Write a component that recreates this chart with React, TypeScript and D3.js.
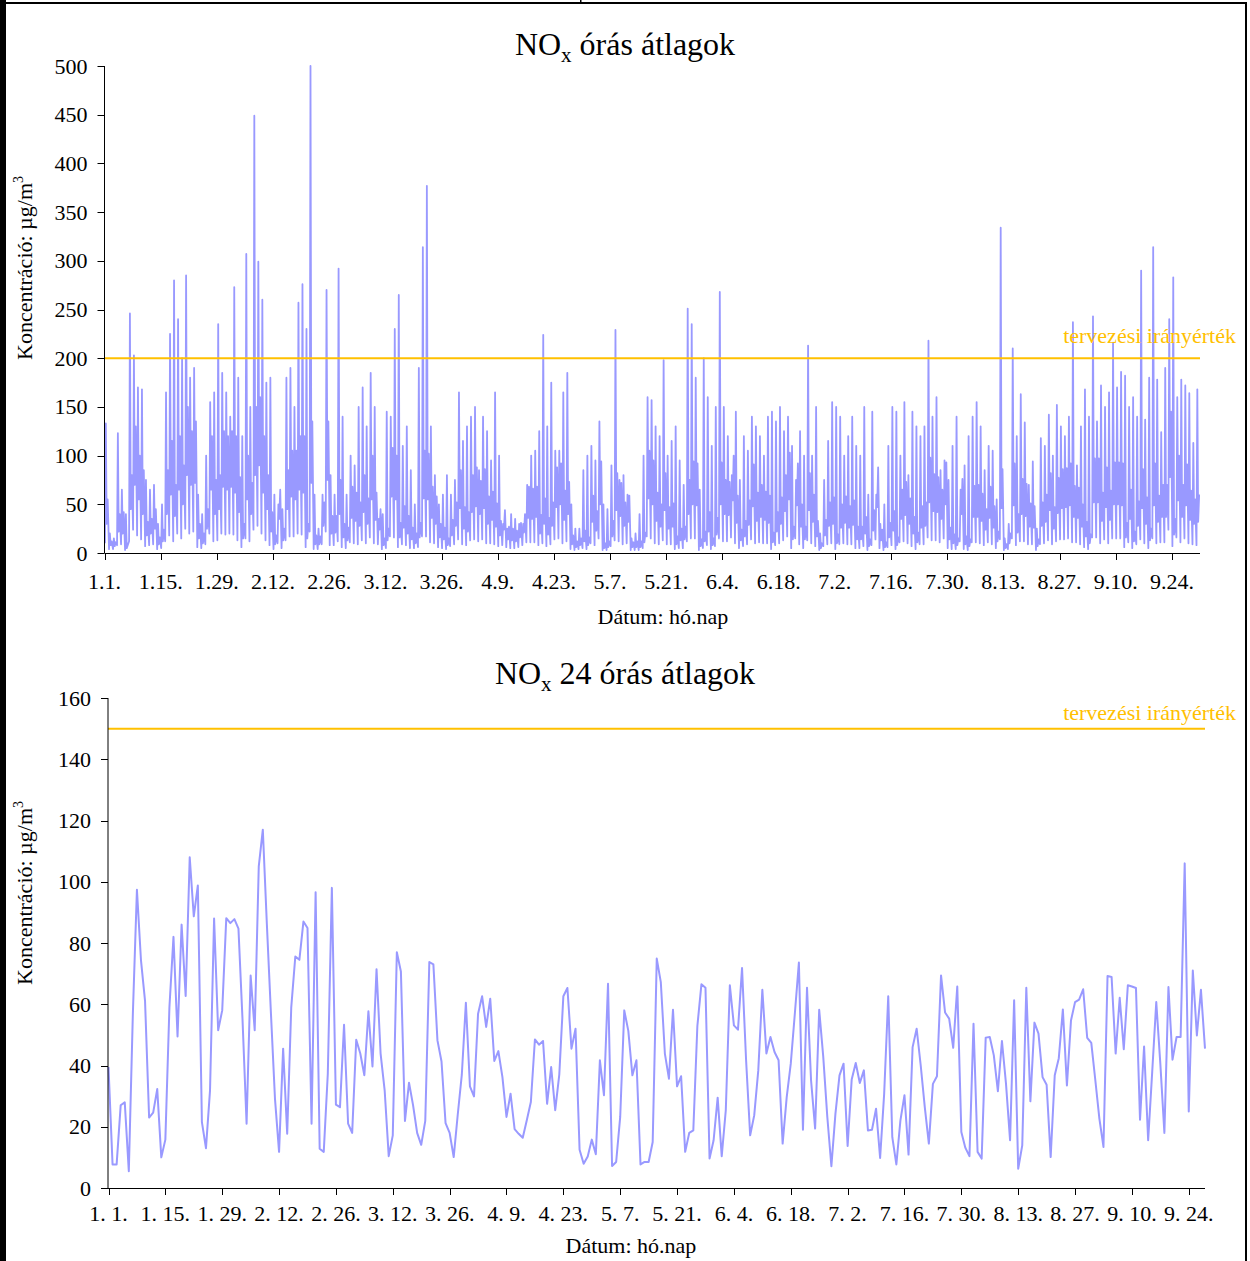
import React from "react";
import * as d3 from "d3";

// ---- tick labels (every 14 days from 1 January) ----
const tickDays = [0, 14, 28, 42, 56, 70, 84, 98, 112, 126, 140, 154, 168, 182, 196, 210, 224, 238, 252, 266];
const hourlyTickLabels = ["1.1.", "1.15.", "1.29.", "2.12.", "2.26.", "3.12.", "3.26.", "4.9.", "4.23.", "5.7.", "5.21.", "6.4.", "6.18.", "7.2.", "7.16.", "7.30.", "8.13.", "8.27.", "9.10.", "9.24."];
const dailyTickLabels = ["1. 1.", "1. 15.", "1. 29.", "2. 12.", "2. 26.", "3. 12.", "3. 26.", "4. 9.", "4. 23.", "5. 7.", "5. 21.", "6. 4.", "6. 18.", "7. 2.", "7. 16.", "7. 30.", "8. 13.", "8. 27.", "9. 10.", "9. 24."];

const hourlyYTicks = [0, 50, 100, 150, 200, 250, 300, 350, 400, 450, 500];
const dailyYTicks = [0, 20, 40, 60, 80, 100, 120, 140, 160];

// planning guide values (µg/m3)
const hourlyLimit = 200;
const dailyLimit = 150;

// ---- hourly NOx: night minimum, morning maximum, midday dip and evening level of each day ----
const hourlyLow = [
  10, 4, 4, 8, 9, 3, 12, 24, 18, 14,
  7, 8, 9, 4, 5, 12, 18, 12, 20, 15,
  25, 20, 22, 6, 5, 9, 20, 12, 13, 20,
  19, 20, 19, 13, 6, 15, 12, 24, 28, 20,
  13, 8, 4, 10, 5, 13, 17, 17, 20, 19,
  6, 22, 4, 4, 9, 22, 8, 8, 12, 6,
  5, 11, 10, 9, 13, 10, 16, 10, 9, 4,
  5, 17, 16, 6, 9, 8, 5, 5, 6, 17,
  17, 11, 10, 6, 5, 4, 7, 9, 14, 9,
  8, 13, 14, 12, 14, 10, 10, 9, 7, 8,
  6, 5, 5, 6, 8, 11, 11, 11, 8, 10,
  7, 9, 14, 15, 10, 12, 4, 3, 4, 5,
  4, 10, 8, 15, 3, 3, 7, 13, 12, 9,
  10, 3, 3, 3, 5, 17, 15, 10, 9, 13,
  9, 9, 4, 5, 5, 12, 15, 15, 3, 5,
  8, 4, 7, 15, 12, 12, 16, 10, 5, 7,
  9, 14, 10, 11, 10, 10, 4, 8, 10, 13,
  17, 5, 15, 9, 5, 13, 10, 7, 3, 7,
  9, 10, 4, 9, 10, 9, 9, 5, 5, 7,
  3, 8, 14, 5, 3, 6, 8, 4, 11, 12,
  10, 7, 4, 9, 9, 16, 13, 13, 11, 15,
  5, 4, 4, 12, 4, 3, 11, 11, 10, 8,
  11, 9, 5, 14, 3, 4, 15, 8, 12, 12,
  9, 9, 3, 9, 10, 13, 9, 12, 14, 14,
  15, 11, 11, 9, 6, 4, 16, 16, 10, 14,
  10, 15, 15, 15, 6, 11, 5, 9, 14, 10,
  5, 15, 10, 11, 11, 24, 7, 16, 11, 15,
  10, 9, 8,
];

const hourlyPeak = [
  133, 20, 15, 123, 65, 40, 246, 203, 170, 168,
  75, 65, 70, 30, 50, 165, 225, 280, 240, 200,
  285, 180, 190, 60, 40, 100, 155, 165, 235, 185,
  165, 140, 273, 180, 120, 307, 150, 449, 299, 260,
  175, 180, 60, 50, 45, 180, 190, 150, 257, 276,
  230, 500, 60, 25, 60, 270, 80, 60, 292, 140,
  60, 100, 90, 150, 170, 130, 185, 150, 35, 40,
  145, 140, 230, 265, 110, 130, 85, 50, 190, 314,
  377, 130, 80, 50, 60, 80, 60, 75, 165, 115,
  130, 140, 150, 85, 140, 125, 95, 165, 100, 30,
  25, 40, 35, 30, 30, 70, 100, 105, 125, 224,
  130, 175, 105, 105, 165, 185, 50, 25, 25, 85,
  100, 110, 95, 135, 50, 45, 90, 229, 75, 80,
  60, 15, 20, 40, 100, 160, 157, 130, 120, 198,
  100, 115, 130, 95, 70, 251, 235, 180, 65, 200,
  160, 110, 150, 268, 150, 120, 80, 145, 75, 120,
  105, 140, 130, 120, 100, 140, 145, 135, 150, 125,
  140, 110, 75, 125, 100, 213, 100, 150, 20, 75,
  115, 155, 150, 140, 100, 120, 140, 110, 100, 150,
  60, 145, 60, 30, 50, 110, 150, 145, 100, 155,
  80, 145, 130, 120, 130, 218, 140, 160, 85, 95,
  75, 110, 140, 65, 90, 120, 140, 155, 130, 85,
  110, 105, 55, 334, 15, 30, 210, 120, 163, 134,
  70, 94, 25, 118, 110, 142, 100, 152, 130, 120,
  140, 237, 90, 130, 168, 140, 243, 135, 172, 150,
  165, 216, 170, 186, 182, 150, 160, 140, 290, 137,
  180, 314, 178, 124, 190, 240, 283, 160, 178, 172,
  164, 113, 168,
];

const hourlyMidday = [
  30, 8, 7, 22, 20, 5, 45, 70, 55, 40,
  18, 20, 25, 9, 12, 40, 60, 38, 65, 50,
  80, 70, 72, 15, 10, 25, 65, 40, 45, 68,
  65, 68, 62, 42, 15, 55, 40, 80, 90, 62,
  45, 22, 9, 35, 13, 45, 58, 55, 65, 62,
  15, 72, 9, 9, 28, 75, 20, 21, 40, 16,
  13, 36, 33, 28, 42, 30, 55, 34, 24, 8,
  13, 58, 55, 16, 26, 20, 14, 10, 16, 56,
  55, 36, 30, 16, 14, 8, 18, 28, 46, 25,
  22, 42, 48, 40, 46, 30, 34, 27, 18, 24,
  14, 13, 12, 16, 21, 36, 35, 37, 20, 30,
  19, 28, 47, 50, 34, 40, 9, 6, 8, 12,
  8, 32, 23, 50, 5, 6, 17, 44, 38, 28,
  32, 6, 6, 6, 11, 56, 50, 33, 27, 44,
  25, 27, 9, 13, 14, 40, 50, 49, 7, 12,
  22, 8, 19, 50, 40, 39, 54, 31, 13, 17,
  29, 48, 33, 37, 34, 31, 11, 22, 30, 43,
  55, 14, 49, 27, 14, 44, 32, 17, 5, 18,
  28, 30, 10, 26, 31, 26, 29, 14, 14, 20,
  7, 23, 47, 13, 6, 16, 23, 8, 35, 39,
  30, 20, 11, 26, 28, 52, 43, 42, 35, 50,
  14, 10, 8, 40, 9, 7, 37, 37, 33, 24,
  36, 26, 12, 46, 5, 10, 49, 21, 40, 38,
  27, 26, 7, 28, 32, 44, 25, 41, 46, 47,
  49, 37, 36, 27, 17, 10, 52, 52, 33, 47,
  34, 50, 50, 49, 16, 35, 12, 28, 46, 30,
  13, 49, 32, 37, 37, 78, 19, 54, 37, 49,
  34, 30, 32,
];

const hourlyEvening = [
  55, 12, 11, 40, 42, 8, 80, 130, 100, 85,
  32, 35, 45, 16, 24, 85, 115, 70, 120, 90,
  150, 125, 135, 30, 20, 45, 120, 75, 80, 125,
  120, 125, 120, 78, 30, 100, 72, 150, 160, 120,
  80, 42, 18, 65, 25, 85, 105, 105, 120, 120,
  30, 135, 18, 17, 52, 135, 38, 38, 75, 30,
  26, 68, 62, 52, 80, 56, 100, 62, 45, 15,
  25, 108, 100, 31, 48, 38, 26, 20, 31, 105,
  102, 68, 58, 30, 26, 15, 34, 52, 85, 47,
  42, 80, 88, 74, 86, 58, 63, 51, 33, 44,
  27, 25, 23, 31, 40, 68, 66, 68, 39, 56,
  36, 52, 88, 92, 64, 73, 18, 12, 15, 23,
  16, 59, 43, 94, 10, 12, 33, 82, 72, 52,
  59, 11, 12, 12, 21, 105, 95, 62, 50, 82,
  47, 51, 17, 25, 27, 75, 94, 92, 14, 22,
  42, 15, 36, 93, 75, 73, 100, 59, 24, 33,
  54, 91, 62, 70, 63, 59, 21, 42, 57, 80,
  103, 27, 92, 50, 27, 82, 60, 33, 10, 34,
  52, 57, 19, 50, 58, 48, 54, 27, 27, 37,
  14, 44, 88, 24, 11, 31, 43, 16, 65, 73,
  56, 37, 21, 48, 52, 98, 81, 78, 65, 93,
  26, 19, 15, 76, 17, 14, 69, 70, 61, 45,
  68, 48, 22, 86, 9, 20, 92, 40, 76, 71,
  51, 48, 14, 52, 60, 82, 47, 77, 86, 87,
  92, 69, 67, 50, 32, 19, 97, 97, 62, 88,
  64, 93, 93, 92, 31, 65, 22, 53, 86, 57,
  25, 92, 59, 70, 70, 145, 35, 100, 70, 91,
  64, 55, 60,
];

// ---- 24-hour NOx averages, 1 January onwards ----
const daily24h = [
  39.5, 7.7, 7.7, 27, 28, 5.5, 57, 97.4, 74.3, 61,
  23, 24.6, 32.3, 10, 15.8, 59, 82, 49.5, 86, 62.7,
  108, 88.7, 98.8, 21.5, 13, 31.9, 88, 51.5, 58, 88.1,
  86.5, 87.8, 84.7, 55, 21, 69.4, 51.5, 105, 117, 86,
  57, 29, 11.8, 45.5, 17.7, 59, 75.6, 74.5, 87, 84.9,
  21, 96.6, 12.8, 11.8, 37.3, 98, 27.2, 26.4, 53.3, 21,
  18, 48.4, 43.9, 36.8, 57.7, 39.7, 71.4, 43.9, 31.9, 10.4,
  17.2, 77, 70.7, 21.9, 34.4, 27, 18, 14.1, 21.9, 73.8,
  73, 48.2, 41.3, 21.2, 18, 10.1, 24, 37, 60.5, 33.2,
  29.9, 56.9, 62.6, 52.6, 61.8, 41.5, 44.7, 36.2, 23.2, 30.8,
  19.2, 17.7, 16.4, 22.1, 28.1, 48.5, 46.8, 48, 27.5, 39.5,
  25.4, 37, 62.6, 65.3, 45.5, 52, 12.5, 7.9, 10.3, 15.8,
  11, 41.7, 30.3, 66.7, 7.2, 8.5, 23.2, 58, 51.3, 36.8,
  41.7, 7.7, 8.5, 8.5, 15, 74.9, 67.2, 43.9, 35.7, 58.2,
  33.2, 36.5, 11.8, 18, 18.8, 52.9, 66.5, 65.4, 9.6, 15.6,
  29.5, 10.4, 25.4, 66.2, 53.1, 51.7, 71.8, 41.7, 17.2, 23.7,
  38.4, 64.7, 43.9, 49.3, 44.4, 41.7, 14.5, 29.7, 40.6, 56.9,
  73.6, 19, 65.4, 35.1, 19.4, 58.2, 42.8, 23.2, 7.1, 24.3,
  36.8, 40.6, 13.7, 35.4, 40.8, 34.3, 38.4, 18.8, 19, 25.9,
  9.8, 30.8, 62.6, 16.6, 7.7, 22.1, 30.3, 10.9, 46, 52,
  40, 26.4, 14.5, 34, 36.5, 69.4, 57.3, 55.3, 45.8, 65.8,
  18.3, 13.1, 10.4, 53.6, 11.8, 9.6, 49.1, 49.3, 43.3, 31.6,
  48, 34, 15.6, 61.3, 6.3, 13.9, 65.4, 28.3, 54, 50.4,
  36.2, 33.7, 10.1, 36.8, 42.4, 58.3, 33.5, 54.7, 60.7, 61.5,
  64.9, 49, 47.4, 35.1, 22.6, 13.4, 69.2, 68.9, 43.9, 62.1,
  45.3, 66.2, 65.8, 65.3, 22.3, 46.2, 15.6, 37.9, 60.7, 40.6,
  18, 65.6, 41.9, 49.3, 49.3, 106, 25, 71, 49.8, 64.7,
  45.5,
];

const FONT = "'Liberation Serif', 'Times New Roman', serif";
const LINE = "#9999FF";
const GUIDE = "#FFC000";

type Box = { left: number; right: number; top: number; bottom: number };

function YAxis({ box, y, ticks }: { box: Box; y: d3.ScaleLinear<number, number>; ticks: number[] }) {
  return (
    <g>
      <line x1={box.left} x2={box.left} y1={box.top} y2={box.bottom} stroke="#000" strokeWidth={1} />
      {ticks.map((t) => (
        <g key={t}>
          <line x1={box.left - 7} x2={box.left} y1={Math.round(y(t)) + 0.5} y2={Math.round(y(t)) + 0.5} stroke="#000" strokeWidth={1} />
          <text x={box.left - 17} y={y(t) + 7.5} textAnchor="end" fontSize={22} fontFamily={FONT} fill="#000">
            {t}
          </text>
        </g>
      ))}
    </g>
  );
}

function XAxis({ box, x, labels, labelY }: { box: Box; x: d3.ScaleLinear<number, number>; labels: string[]; labelY: number }) {
  return (
    <g>
      <line x1={box.left} x2={box.right} y1={box.bottom + 0.5} y2={box.bottom + 0.5} stroke="#000" strokeWidth={1.2} />
      {tickDays.map((d, i) => (
        <g key={d}>
          <line x1={Math.round(x(d)) + 0.5} x2={Math.round(x(d)) + 0.5} y1={box.bottom} y2={box.bottom + 7} stroke="#000" strokeWidth={1} />
          <text x={x(d)} y={labelY} textAnchor="middle" fontSize={22} fontFamily={FONT} fill="#000">
            {labels[i]}
          </text>
        </g>
      ))}
    </g>
  );
}

function YLabel({ cx, cy }: { cx: number; cy: number }) {
  return (
    <text transform={`translate(${cx},${cy}) rotate(-90)`} textAnchor="middle" fontSize={22} fontFamily={FONT} fill="#000">
      Koncentráció: µg/m<tspan fontSize={14} dy={-9}>3</tspan>
    </text>
  );
}

function Title({ cx, y, rest }: { cx: number; y: number; rest: string }) {
  return (
    <text x={cx} y={y} textAnchor="middle" fontSize={32} fontFamily={FONT} fill="#000">
      NO<tspan fontSize={21} dy={7}>x</tspan>
      <tspan dy={-7}>{rest}</tspan>
    </text>
  );
}

export default function App() {
  // hourly chart
  const hb: Box = { left: 104.5, right: 1200, top: 66, bottom: 553 };
  const hx = d3.scaleLinear().domain([0, 273]).range([hb.left, hb.right]);
  const hy = d3.scaleLinear().domain([0, 500]).range([hb.bottom, hb.top]);
  const hourlyPoints = hourlyPeak.flatMap((peak, d) => [
    [d + 3 / 24, hourlyLow[d]],
    [d + 8 / 24, peak],
    [d + 13 / 24, hourlyMidday[d]],
    [d + 19 / 24, hourlyEvening[d]],
  ]);
  const hourlyPath = d3
    .line<number[]>()
    .x((p) => hx(p[0]))
    .y((p) => hy(p[1]))(hourlyPoints) as string;

  // daily chart
  const db: Box = { left: 108, right: 1205, top: 698, bottom: 1188 };
  const dx = d3.scaleLinear().domain([0, 270]).range([108.5, 1205]);
  const dy = d3.scaleLinear().domain([0, 160]).range([db.bottom, db.top]);
  const dailyPath = d3
    .line<number>()
    .x((_, i) => dx(i))
    .y((v) => dy(v))(daily24h) as string;

  return (
    <svg
      width={1250}
      height={1261}
      viewBox="0 0 1250 1261"
      style={{ position: "absolute", left: 0, top: 0, background: "#fff" }}
    >
      <rect x={0} y={0} width={1250} height={1261} fill="#fff" />
      {/* frame */}
      <rect x={0} y={0} width={6} height={1261} fill="#000" />
      <rect x={0} y={2} width={1247} height={2} fill="#000" />
      <rect x={1245} y={2} width={2} height={1259} fill="#000" />
      <rect x={580} y={0} width={1.5} height={4} fill="#000" />

      {/* hourly averages */}
      <Title cx={625} y={55} rest=" órás átlagok" />
      <YLabel cx={32} cy={268} />
      <path d={hourlyPath} fill="none" stroke={LINE} strokeWidth={1.8} strokeLinejoin="round" />
      <line x1={hb.left} x2={hb.right} y1={hy(hourlyLimit)} y2={hy(hourlyLimit)} stroke={GUIDE} strokeWidth={2} />
      <text x={1236} y={343} textAnchor="end" fontSize={22} fontFamily={FONT} fill={GUIDE}>
        tervezési irányérték
      </text>
      <YAxis box={hb} y={hy} ticks={hourlyYTicks} />
      <XAxis box={hb} x={hx} labels={hourlyTickLabels} labelY={589} />
      <text x={663} y={624} textAnchor="middle" fontSize={22} fontFamily={FONT} fill="#000">
        Dátum: hó.nap
      </text>

      {/* 24-hour averages */}
      <Title cx={625} y={684} rest=" 24 órás átlagok" />
      <YLabel cx={32} cy={893} />
      <line x1={db.left} x2={db.right} y1={dy(dailyLimit)} y2={dy(dailyLimit)} stroke={GUIDE} strokeWidth={2} />
      <text x={1236} y={720} textAnchor="end" fontSize={22} fontFamily={FONT} fill={GUIDE}>
        tervezési irányérték
      </text>
      <path d={dailyPath} fill="none" stroke={LINE} strokeWidth={2} strokeLinejoin="round" />
      <YAxis box={db} y={dy} ticks={dailyYTicks} />
      <XAxis box={db} x={dx} labels={dailyTickLabels} labelY={1221} />
      <text x={631} y={1253} textAnchor="middle" fontSize={22} fontFamily={FONT} fill="#000">
        Dátum: hó.nap
      </text>
    </svg>
  );
}
